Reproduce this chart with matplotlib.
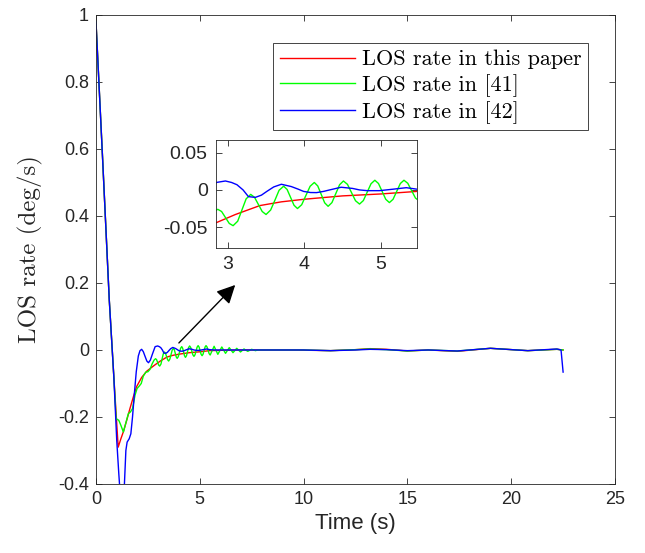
import matplotlib
matplotlib.use("Agg")
import matplotlib.pyplot as plt
from matplotlib.ticker import FormatStrFormatter

plt.rcParams['axes.unicode_minus'] = False
plt.rcParams['font.family'] = ['Liberation Sans', 'DejaVu Sans']

# LOS rate in this paper
t_red = [0, 0.32, 0.64, 0.86, 1.07, 1.2, 1.32, 1.48, 1.64, 1.8, 1.96, 2.2, 2.45,
         2.7, 2.85, 3.1, 3.42, 3.7, 4.0, 4.5, 5.0, 5.47, 6.0, 7.0, 8.0, 9.5, 11.3,
         12.5, 13.2, 14.0, 15.0, 16.0, 17.4, 19.0, 20.8, 22.2, 22.5]
v_red = [0.98, 0.57, 0.15, -0.08, -0.29, -0.265, -0.244, -0.21, -0.174, -0.14,
         -0.109, -0.082, -0.063, -0.051, -0.044, -0.033, -0.021, -0.016, -0.0125,
         -0.008, -0.0054, -0.002, -0.001, 0.0, 0.0, 0.0, -0.002, 0.001, 0.004,
         0.002, -0.003, 0.0, -0.004, 0.005, -0.002, 0.002, 0.0]

# LOS rate in [41]
t_green = [0, 0.32, 0.64, 0.86, 0.97, 1.1, 1.2, 1.32, 1.45, 1.56, 1.66, 1.76,
           1.88, 1.98, 2.08, 2.18, 2.28, 2.4, 2.5, 2.6, 2.7, 2.8, 2.87,
           2.92, 2.97, 3.02, 3.07, 3.13, 3.185, 3.24, 3.30, 3.35, 3.40, 3.45,
           3.50, 3.56, 3.615, 3.67, 3.73, 3.775, 3.82, 3.865, 3.91, 3.965, 4.02,
           4.075, 4.13, 4.175, 4.22, 4.265, 4.31, 4.36, 4.41, 4.46, 4.51, 4.5625,
           4.615, 4.6675, 4.72, 4.77, 4.82, 4.87, 4.92, 4.9675, 5.015, 5.0625,
           5.11, 5.1575, 5.205, 5.2525, 5.30, 5.35, 5.40, 5.45, 5.50,
           5.595, 5.69, 5.78, 5.87, 5.965, 6.06, 6.15, 6.24, 6.33, 6.42, 6.51,
           6.60, 6.69, 6.78, 6.87, 6.96, 7.045, 7.13, 7.22, 7.31, 7.405, 7.50,
           7.59, 7.68, 7.8, 8.5, 10.0, 11.3, 12.5, 13.2, 14.0, 15.0, 16.0, 17.4,
           19.0, 20.8, 22.2, 22.5]
v_green = [0.98, 0.57, 0.15, -0.08, -0.205, -0.21, -0.225, -0.245, -0.215, -0.19,
           -0.185, -0.175, -0.135, -0.115, -0.108, -0.1, -0.078, -0.066, -0.065,
           -0.058, -0.042, -0.03, -0.026,
           -0.029, -0.037, -0.045, -0.048, -0.042, -0.027, -0.012, -0.006, -0.010,
           -0.0195, -0.029, -0.033, -0.027, -0.014, -0.0005, 0.005, 0.0006, -0.010,
           -0.0206, -0.025, -0.0199, -0.0075, 0.0049, 0.010, 0.0053, -0.006,
           -0.0173, -0.022, -0.017, -0.005, 0.007, 0.012, 0.0075, -0.0035, -0.0145,
           -0.019, -0.0143, -0.003, 0.0083, 0.013, 0.0086, -0.002, -0.0126, -0.017,
           -0.0126, -0.002, 0.0086, 0.013, 0.0089, -0.001, -0.0109, -0.015,
           -0.002, 0.011, -0.001, -0.013, -0.002, 0.009, -0.0005, -0.010, -0.0015,
           0.007, -0.0005, -0.008, -0.0015, 0.005, -0.0005, -0.006, -0.0015, 0.003,
           -0.0005, -0.004, -0.001, 0.002, 0.0, -0.002, 0.0, 0.0, 0.0, -0.002,
           0.001, 0.003, 0.001, -0.003, 0.0, -0.003, 0.005, -0.002, 0.002, 0.0]

# LOS rate in [42]
t_blue = [0, 0.32, 0.64, 0.86, 1.0, 1.1, 1.2, 1.3, 1.37, 1.44, 1.5, 1.6, 1.68,
          1.76, 1.85, 1.94, 2.04, 2.12, 2.2, 2.28, 2.37, 2.45, 2.53, 2.62, 2.72,
          2.85, 2.97, 3.05, 3.12, 3.2, 3.27, 3.36, 3.44, 3.51, 3.6, 3.70, 3.83,
          3.92, 3.99, 4.08, 4.16, 4.25, 4.33, 4.48, 4.63, 4.72, 4.82, 4.98, 5.16,
          5.33, 5.47, 5.7, 6.5, 8.0, 10.0, 11.3, 12.5, 13.2, 14.0, 15.0, 16.0,
          17.4, 19.0, 20.8, 22.2, 22.4, 22.5]
v_blue = [0.98, 0.57, 0.15, -0.08, -0.27, -0.37, -0.46, -0.46, -0.40, -0.30,
          -0.275, -0.265, -0.25, -0.2, -0.13, -0.065, -0.018, -0.002, 0.002,
          -0.005, -0.02, -0.033, -0.038, -0.03, -0.012, 0.010, 0.012, 0.010,
          0.007, 0.0, -0.009, -0.010, -0.007, -0.002, 0.004, 0.0076, 0.0045,
          0.001, -0.002, -0.0035, -0.0036, -0.002, 0.0, 0.0036, 0.002, 0.0,
          -0.001, -0.001, 0.001, 0.003, 0.001, 0.0, 0.0, 0.0, 0.0, -0.002, 0.0,
          0.002, 0.001, -0.002, 0.0, -0.003, 0.005, -0.002, 0.003, 0.0, -0.066]

labels = ['LOS rate in this paper', 'LOS rate in [41]', 'LOS rate in [42]']
series = [(t_red, v_red, '#ff0000'), (t_green, v_green, '#00ff00'), (t_blue, v_blue, '#0000ff')]

axcol = '#262626'

fig = plt.figure(figsize=(6.45, 5.53), dpi=100)
ax = fig.add_axes([0.1488, 0.1248, 0.8047, 0.8481])

for (t, v, c), lab in zip(series, labels):
    ax.plot(t, v, color=c, lw=1.0, label=lab)

ax.set_xlim(0, 25)
ax.set_ylim(-0.4, 1)
ax.set_xticks([0, 5, 10, 15, 20, 25])
ax.set_yticks([-0.4, -0.2, 0, 0.2, 0.4, 0.6, 0.8, 1])
ax.yaxis.set_major_formatter(FormatStrFormatter('%g'))
ax.tick_params(direction='in', top=True, right=True, length=4, width=0.6,
               colors=axcol, labelsize=13, labelcolor=axcol, pad=5)
for s in ax.spines.values():
    s.set_color(axcol)
    s.set_linewidth(0.6)
ax.set_xlabel('Time (s)', fontsize=16, color=axcol, labelpad=4)
ax.set_ylabel('LOS rate (deg/s)', fontsize=18, family='cmr10', color=axcol, labelpad=11)

leg = ax.legend(loc='upper right', bbox_to_anchor=(0.948, 0.94), borderaxespad=0,
                prop={'family': 'cmr10', 'size': 16}, fancybox=False, framealpha=1,
                edgecolor=axcol, handlelength=3.4, handletextpad=0.3,
                labelspacing=0.2, borderpad=0.3)
leg.get_frame().set_linewidth(0.6)

# arrow pointing from the settling region to the zoomed view
ax.annotate('', xy=(6.8, 0.2), xytext=(3.9, 0.015),
            arrowprops=dict(arrowstyle='-|>', color='black', lw=1.0, mutation_scale=28))

ins = fig.add_axes([0.3349, 0.5515, 0.3116, 0.1953])
for t, v, c in series:
    ins.plot(t, v, color=c, lw=1.0)
ins.set_xlim(2.847, 5.47)
ins.set_ylim(-0.078, 0.067)
ins.set_xticks([3, 4, 5])
ins.set_yticks([-0.05, 0, 0.05])
ins.yaxis.set_major_formatter(FormatStrFormatter('%g'))
ins.tick_params(direction='in', top=True, right=True, length=4, width=0.6,
                colors=axcol, labelsize=14, labelcolor=axcol, pad=6)
for s in ins.spines.values():
    s.set_color(axcol)
    s.set_linewidth(0.6)

fig.savefig('out.png', dpi=100)
